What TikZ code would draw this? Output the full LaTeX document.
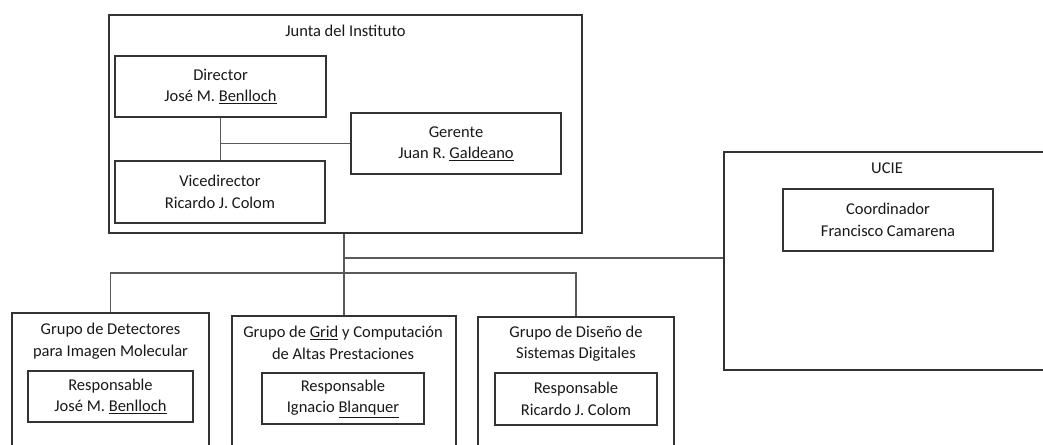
\documentclass[tikz,border=0pt]{standalone}
\usepackage{fontspec}
\setmainfont{Carlito}
\begin{document}
\begin{tikzpicture}[x=1pt,y=-1pt,
  box/.style={draw=black!80, line width=1.3pt, rectangle, inner sep=0pt, anchor=center},
  txt/.style={text=black!90, align=center, font=\fontsize{16.5}{21.5}\selectfont, inner sep=0pt, anchor=center},
  conn/.style={draw=black!65, line width=1.1pt}]
\useasboundingbox[fill=white] (0,0) rectangle (1043,444);
\clip (0,0) rectangle (1043,444);
% Junta del Instituto
\node[box, minimum width=473pt, minimum height=218pt] (junta) at (345.5,124) {};
\node[txt] (juntat) at (345.5,31) {Junta del Instituto};
\node[box, txt, draw=black!80, line width=1.3pt, minimum width=211pt, minimum height=61pt] (dir) at (220.5,86.5) {Director\\José M. \underline{Benlloch}};
\node[box, txt, draw=black!80, line width=1.3pt, minimum width=210pt, minimum height=61pt] (ger) at (456,143.5) {Gerente\\Juan R. \underline{Galdeano}};
\node[box, txt, draw=black!80, line width=1.3pt, minimum width=210pt, minimum height=62pt] (vice) at (220,192) {Vicedirector\\Ricardo J. Colom};
% UCIE
\node[box, minimum width=328pt, minimum height=218pt] (ucie) at (888,261) {};
\node[txt] (uciet) at (887,168) {UCIE};
\node[box, txt, draw=black!80, line width=1.3pt, minimum width=210pt, minimum height=62pt] (coord) at (888,220) {Coordinador\\Francisco Camarena};
% Groups
\node[box, minimum width=197pt, minimum height=147pt] (g1) at (110.5,386.5) {};
\node[txt] (g1t) at (110.5,341) {Grupo de Detectores\\para Imagen Molecular};
\node[box, txt, draw=black!80, line width=1.3pt, minimum width=165pt, minimum height=51pt] (g1r) at (110.5,396.5) {Responsable\\José M. \underline{Benlloch}};
\node[box, minimum width=224pt, minimum height=144pt] (g2) at (344,388) {};
\node[txt] (g2t) at (343,343) {Grupo de \underline{Grid} y Computación\\de Altas Prestaciones};
\node[box, txt, draw=black!80, line width=1.3pt, minimum width=162pt, minimum height=51pt] (g2r) at (343,398.5) {Responsable\\Ignacio \underline{Blanquer}};
\node[box, minimum width=196pt, minimum height=143pt] (g3) at (576,388.5) {};
\node[txt] (g3t) at (576,343.5) {Grupo de Diseño de\\Sistemas Digitales};
\node[box, txt, draw=black!80, line width=1.3pt, minimum width=162pt, minimum height=52pt] (g3r) at (576,399) {Responsable\\Ricardo J. Colom};
% connectors
\coordinate (bar) at (0,273);
\coordinate (uline) at (0,258);
\draw[conn] (dir.south) -- (dir.south |- vice.north);
\draw[conn] (dir.south |- ger.west) -- (ger.west);
\draw[conn] (g2.north |- junta.south) -- (g2.north);
\draw[conn] (g2.north |- uline) -- (ucie.west |- uline);
\draw[conn] (g1.north) -- (g1.north |- bar) -- (g3.north |- bar) -- (g3.north);
\end{tikzpicture}
\end{document}
